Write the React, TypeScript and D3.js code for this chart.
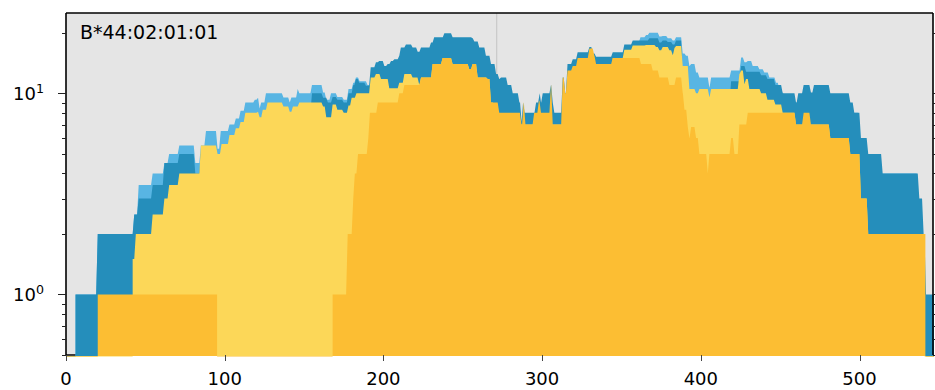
import { useEffect, useRef } from "react";
import * as d3 from "d3";

type Pt = [number, number];

// change points: [position, value]; drawn back to front
const lightBlue: Pt[] = [
  [0, 0], [6, 1], [20, 2], [43, 2.5], [45.8, 3.5], [54.6, 4], [62, 4.5], [65, 5], [71.4, 5.5],
  [81.5, 4.5], [85, 5.5], [88.2, 6.5], [95.5, 5.3], [97.5, 6.5], [103, 7], [107, 7.5], [110, 8.2],
  [113, 9], [119, 9.3], [121, 9.5], [122, 8.4], [123, 9], [126, 10], [137, 9.55], [141, 9],
  [142, 9.55], [146, 10.5], [147, 10], [155, 11], [162, 10.1], [164, 9.3], [167, 10], [171, 9.6],
  [175, 9.3], [178, 10.5], [181, 11.3], [182.7, 12], [185, 11.5], [190, 11], [192, 7],
  [352, 17], [357, 18], [362, 19], [365.5, 19.5], [367.6, 20], [373.9, 19.2], [376, 19.3],
  [379.2, 18.8], [382.3, 18.3], [384.4, 19], [388.6, 15.8], [390.7, 15.4], [392.8, 13.7],
  [393.9, 14], [397, 12.7], [399.1, 12], [405.4, 10.7], [406.5, 12], [419.1, 13], [425.4, 15.1],
  [427.5, 14.3], [429.6, 14.5], [432.7, 13.7], [436.9, 13.2], [440, 12.7], [443.2, 12],
  [447.4, 11.3], [449.5, 10.5], [451.6, 10], [453, 9], [494, 8], [500, 6], [505, 5], [514, 4],
  [537, 2], [541, 1], [542, 0], [547, 0],
];

const darkBlue: Pt[] = [
  [0, 0], [6, 1], [20, 2], [43, 2.5], [45.8, 3], [54.6, 3.5], [62, 4.5], [71.4, 5], [81.5, 4],
  [85, 5], [95.5, 4.8], [98, 5.4], [103, 6], [107, 6.5], [110, 7], [113, 7.5], [124, 8],
  [155, 10], [162, 9.5], [165, 9], [168, 9.6], [171, 9.3], [175, 9], [178, 10], [181, 11],
  [182.7, 11.8], [184.8, 11.3], [189, 10.9], [192, 13.5], [195.3, 14.3], [197.4, 14.5],
  [200.6, 13.7], [202.7, 14], [204.8, 14.5], [206.9, 14.8], [210, 15.4], [211, 16.9],
  [214.2, 17.5], [218.4, 16.9], [221.6, 16.1], [223.7, 16.9], [230, 17.9], [232, 19],
  [238.4, 19.9], [243.6, 19], [256.2, 18.8], [257.3, 18.1], [260.4, 16.9], [264.6, 15.4],
  [267.8, 14], [271, 12.5], [273, 11.8], [274.1, 12], [278.3, 11], [281.5, 10], [285.7, 9],
  [287.1, 7.2], [288, 9], [289, 8], [296.2, 9], [298.5, 10], [299.3, 9], [300.4, 10],
  [305.6, 11], [306.7, 9], [307.7, 8], [313, 12], [314.6, 10], [316, 14], [319.3, 14.8],
  [322.4, 16], [329.8, 17], [332, 15.8], [334, 15.2], [344.5, 16], [351.8, 17.5], [357.1, 18.3],
  [367.6, 18.8], [373.9, 17.9], [376, 18.3], [379.2, 18], [382.3, 17.5], [384.4, 18.3],
  [388.6, 9], [419.1, 11.5], [425.4, 13.7], [428.5, 12.8], [438, 12.3], [442, 11.8], [447, 11],
  [451.6, 10], [460, 9], [461.4, 10], [464.8, 11], [469.4, 10.1], [471.3, 11], [481.6, 10],
  [494.2, 9], [496.7, 8], [500.9, 6], [505.5, 5], [514.6, 4], [537.7, 3], [540.4, 2],
  [541.9, 1], [547, 1],
];

const lightYellow: Pt[] = [
  [0, 0], [42, 1.5], [44, 2], [54.6, 2.5], [62, 3], [65, 3.5], [71.4, 4], [85, 5.5],
  [95.5, 5], [98, 5.6], [103, 6.2], [107, 6.7], [110, 7.2], [113, 8], [121, 8.1], [122, 7.6],
  [124, 8.3], [127, 9], [137, 8.6], [141, 8.1], [143, 8.6], [147, 9], [162, 8.6], [164, 7.6],
  [168, 8.8], [171, 8.3], [175, 8], [178, 8.7], [180, 9.5], [183, 10], [192, 12],
  [195.3, 12.5], [198.5, 11.8], [203.7, 10.6], [210, 11.3], [213.2, 12.5], [218.4, 12],
  [222.5, 11.1], [223.7, 12], [231, 14], [237.3, 15], [243.6, 14], [254.1, 13.2], [256.2, 14],
  [259.4, 12], [265.7, 11.8], [267.8, 9], [270, 7], [344.5, 15], [351.8, 16.5], [357.1, 17.3],
  [365.5, 17.4], [371.8, 17], [373.9, 16.4], [376, 17], [380.2, 16.4], [382.3, 15.5],
  [383.4, 16.8], [384.4, 17.2], [388.6, 13.7], [392.8, 10.5], [397, 10], [399.1, 10.5],
  [405.4, 9.6], [406.5, 10.5], [424.3, 12.5], [425.4, 13], [427.5, 11.1], [428.5, 11.8],
  [430.6, 10.5], [438, 10], [442, 9.3], [447, 8.8], [451.6, 8], [460, 7], [481.6, 6],
  [494.2, 5], [500.9, 3], [505.5, 2], [541, 0], [547, 0],
];

const orange: Pt[] = [
  [0, 0], [20, 1], [95.2, 0], [168, 1], [177.5, 2], [181, 3], [182, 4], [184, 5], [190.5, 6],
  [191.5, 8], [196.5, 9], [210, 10], [213.2, 11], [223.7, 12], [231, 14], [237.3, 15],
  [243.6, 14], [254.1, 13.2], [256.2, 14], [259.4, 12], [265.7, 11.8], [267.8, 9], [273, 8],
  [287, 7], [288.4, 9], [289.5, 7], [295, 8], [298, 9.2], [299.3, 8], [305.6, 11], [306.7, 7],
  [313, 12], [314.6, 10], [316, 13], [319.3, 13.7], [322.4, 15], [329.8, 16.7], [332.9, 15.4],
  [334, 14], [344.5, 15], [362.3, 14], [369.7, 13], [373.9, 12], [380.2, 11], [384.4, 12],
  [388.6, 10], [389.7, 8.3], [391.8, 6.8], [392.8, 6], [393.9, 6.8], [397, 6], [399.1, 5],
  [404.4, 4], [405.4, 5], [419.1, 6], [421.2, 5], [424.3, 7], [429.6, 8], [460, 7],
  [464.8, 8], [469.4, 7], [481.6, 6], [494.2, 5], [500.9, 3], [505.5, 2], [541.5, 0], [547, 0],
];

const xTicks = [0, 100, 200, 300, 400, 500];
const yMajor = [1, 10];
const yMinor = [0.5, 0.6, 0.7, 0.8, 0.9, 2, 3, 4, 5, 6, 7, 8, 9, 20];
const markerX = 271.4;
const title = "B*44:02:01:01";

const series = [
  { name: "lightBlue", data: lightBlue, color: "#58b5e3" },
  { name: "darkBlue", data: darkBlue, color: "#258ebb" },
  { name: "lightYellow", data: lightYellow, color: "#fcd758" },
  { name: "orange", data: orange, color: "#fcbe33" },
];

// hold each value up to one unit before the next change, then ramp (sampled-line look)
const toVertices = (data: Pt[]): Pt[] => {
  const out: Pt[] = [];
  data.forEach((p, i) => {
    out.push(p);
    const next = data[i + 1];
    if (!next) return;
    const flat = p[1] === 0 || next[1] === 0;
    const holdEnd = flat ? next[0] : Math.max(p[0], next[0] - 1);
    out.push([holdEnd, p[1]]);
  });
  return out;
};

const App = () => {
  const svgRef = useRef<SVGSVGElement | null>(null);

  useEffect(() => {
    const width = 935;
    const height = 390;
    const margin = { top: 13, right: 2, bottom: 35, left: 66 };
    const font = "DejaVu Sans, sans-serif";

    const svg = d3.select(svgRef.current).attr("width", width).attr("height", height);
    svg.selectAll("*").remove();

    const x = d3.scaleLinear().domain([0, 546.3]).range([margin.left, width - margin.right]);
    const y = d3.scaleLog().domain([0.5, 25.1]).range([height - margin.bottom, margin.top]);
    const bottom = height - margin.bottom;

    // plot background
    svg
      .append("rect")
      .attr("x", margin.left)
      .attr("y", margin.top)
      .attr("width", width - margin.left - margin.right)
      .attr("height", bottom - margin.top)
      .attr("fill", "#e5e5e5");

    // vertical marker
    svg
      .append("line")
      .attr("x1", x(markerX))
      .attr("x2", x(markerX))
      .attr("y1", margin.top)
      .attr("y2", bottom)
      .attr("stroke", "#c4c4c4")
      .attr("stroke-width", 1);

    // bottom spine sits under the areas
    svg
      .append("line")
      .attr("x1", margin.left)
      .attr("x2", width - margin.right)
      .attr("y1", bottom)
      .attr("y2", bottom)
      .attr("stroke", "#000")
      .attr("stroke-width", 1.5);

    svg
      .append("clipPath")
      .attr("id", "plot-clip")
      .append("rect")
      .attr("x", margin.left)
      .attr("y", margin.top)
      .attr("width", width - margin.left - margin.right + 1)
      .attr("height", bottom - margin.top + 1.5);

    const area = d3
      .area<Pt>()
      .x((d) => x(d[0]))
      .y0(bottom + 1)
      .y1((d) => (d[1] > 0 ? y(d[1]) : bottom + 5))
      .curve(d3.curveLinear);

    const areas = svg.append("g").attr("clip-path", "url(#plot-clip)");
    series.forEach((s) => {
      areas.append("path").datum(toVertices(s.data)).attr("d", area).attr("fill", s.color);
    });

    // spines
    const spine = svg.append("g").attr("stroke", "#000").attr("stroke-width", 1.6);
    spine.append("line").attr("x1", margin.left).attr("x2", margin.left).attr("y1", margin.top).attr("y2", bottom);
    spine
      .append("line")
      .attr("x1", width - margin.right)
      .attr("x2", width - margin.right)
      .attr("y1", margin.top)
      .attr("y2", bottom);
    spine
      .append("line")
      .attr("x1", margin.left)
      .attr("x2", width - margin.right)
      .attr("y1", margin.top)
      .attr("y2", margin.top);

    // y ticks (left and right, outward)
    const yt = svg.append("g").attr("stroke", "#222").attr("stroke-width", 1);
    [...yMajor.map((v) => ({ v, len: 8 })), ...yMinor.map((v) => ({ v, len: 4 }))].forEach((t) => {
      const yy = Math.round(y(t.v)) + 0.5;
      yt.append("line").attr("x1", margin.left - t.len).attr("x2", margin.left).attr("y1", yy).attr("y2", yy);
      yt.append("line")
        .attr("x1", width - margin.right)
        .attr("x2", width - margin.right + t.len)
        .attr("y1", yy)
        .attr("y2", yy);
    });

    // y labels 10^n
    yMajor.forEach((v) => {
      const t = svg
        .append("text")
        .attr("x", 13)
        .attr("y", y(v) + 7)
        .attr("font-family", font)
        .attr("font-size", 18)
        .attr("fill", "#000");
      t.append("tspan").text("10");
      t.append("tspan")
        .attr("font-size", 12.6)
        .attr("dy", -7.5)
        .text(String(Math.round(Math.log10(v))));
    });

    // x ticks
    const xt = svg.append("g");
    xTicks.forEach((v) => {
      const xx = Math.round(x(v)) + 0.5;
      xt.append("line")
        .attr("x1", xx)
        .attr("x2", xx)
        .attr("y1", bottom)
        .attr("y2", bottom + 6)
        .attr("stroke", "#444")
        .attr("stroke-width", 1);
      xt.append("text")
        .attr("x", x(v))
        .attr("y", 385)
        .attr("text-anchor", "middle")
        .attr("font-family", font)
        .attr("font-size", 18)
        .attr("fill", "#000")
        .text(String(v));
    });

    // label in the corner
    svg
      .append("text")
      .attr("x", 80)
      .attr("y", 39)
      .attr("font-family", font)
      .attr("font-size", 19)
      .attr("fill", "#000")
      .text(title);
  }, []);

  return (
    <div style={{ position: "absolute", left: 0, top: 0 }}>
      <svg ref={svgRef} style={{ display: "block" }} />
    </div>
  );
};

export default App;
